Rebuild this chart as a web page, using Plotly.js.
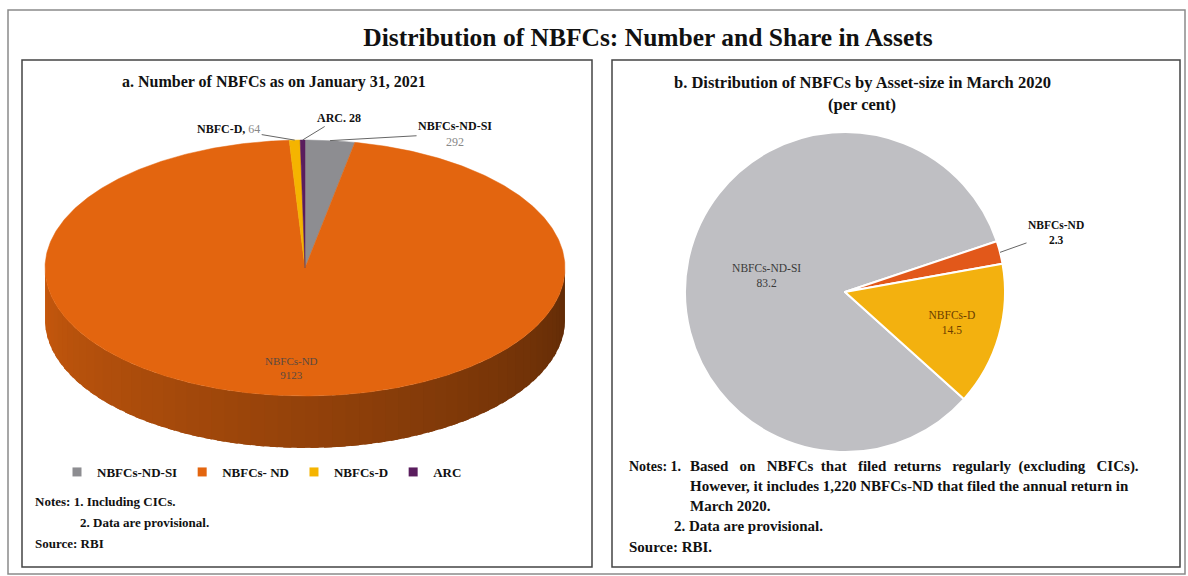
<!DOCTYPE html>
<html><head><meta charset="utf-8">
<script src="https://cdn.plot.ly/plotly-3.0.1.min.js"></script>
<style>html,body{margin:0;padding:0;background:#fff}#chart{width:1188px;height:576px}</style>
</head><body><div id="chart"></div>
<script>
// ---- Data ----
// Panel a: Number of NBFCs as on January 31, 2021
const countCategories = ['NBFCs-ND-SI', 'NBFCs- ND', 'NBFCs-D', 'ARC'];
const countValues = [292, 9123, 64, 28];
const countLabelNames = ['NBFCs-ND-SI', 'NBFCs-ND', 'NBFC-D', 'ARC'];
// Panel b: Distribution of NBFCs by Asset-size in March 2020 (per cent)
const shareCategories = ['NBFCs-ND-SI', 'NBFCs-ND', 'NBFCs-D'];
const shareValues = [83.2, 2.3, 14.5];

// ---- Styles ----
const countColors = ['#8D8D91', '#E3650F', '#F5B400', '#5A1D5E'];
const shareColors = ['#BFBFC3', '#E2581A', '#F3B10F'];
const FONT = 'Liberation Serif, DejaVu Serif, serif';
const W = 1188, H = 576;
const px = x => x / W, py = y => 1 - y / H;

// Left 3D pie geometry (pixels)
const CX = 305, CY = 268, RX = 260, RY = 128, DEPTH = 52;
const xr = [-CX / RX, (594 - CX) / RX];
const yr = [-(H - CY) / RY, CY / RY];
const depthU = DEPTH / RY;

const total = countValues.reduce((a, b) => a + b, 0);
const starts = [];
let acc = 0;
countValues.forEach(v => { starts.push(acc / total * 2 * Math.PI); acc += v; });
const ends = countValues.map((v, i) => starts[i] + v / total * 2 * Math.PI);

function hexToRgb(h) { return [1, 3, 5].map(k => parseInt(h.substr(k, 2), 16)); }
function shade(h, f) { const c = hexToRgb(h).map(v => Math.round(v * f)); return `rgb(${c[0]},${c[1]},${c[2]})`; }
function sliceAt(a) { for (let i = 0; i < countValues.length; i++) if (a >= starts[i] && a <= ends[i]) return i; return 0; }

const traces = [];
// side of the 3D pie (front half only), overlapping segments to avoid seams
const NS = 60;
const step = Math.PI / NS;
for (let k = 0; k < NS; k++) {
  const a0 = Math.PI / 2 + step * k;
  const a1 = Math.min(1.5 * Math.PI, a0 + step * 1.6);
  const m = a0 + step / 2;
  const i = sliceAt(m);
  const t = (m - Math.PI / 2) / Math.PI; // 0 right .. 1 left
  const col = shade(countColors[i], 0.42 + 0.46 * t);
  const xs = [], ys = [];
  const n = 6;
  for (let j = 0; j <= n; j++) { const a = a0 + (a1 - a0) * j / n; xs.push(Math.sin(a)); ys.push(Math.cos(a)); }
  for (let j = n; j >= 0; j--) { const a = a0 + (a1 - a0) * j / n; xs.push(Math.sin(a)); ys.push(Math.cos(a) - depthU); }
  xs.push(xs[0]); ys.push(ys[0]);
  traces.push({
    type: 'scatter', mode: 'lines', xaxis: 'x', yaxis: 'y', fill: 'toself', fillcolor: col,
    line: { color: col, width: 0 }, hoverinfo: 'skip', showlegend: false, x: xs, y: ys
  });
}
// top faces
countValues.forEach((v, i) => {
  const n = Math.max(2, Math.ceil((ends[i] - starts[i]) / (Math.PI / 360)));
  const xs = [0], ys = [0];
  for (let k = 0; k <= n; k++) {
    const a = starts[i] + (ends[i] - starts[i]) * k / n;
    xs.push(Math.sin(a)); ys.push(Math.cos(a));
  }
  xs.push(0); ys.push(0);
  traces.push({
    type: 'scatter', mode: 'lines', xaxis: 'x', yaxis: 'y', fill: 'toself', fillcolor: countColors[i],
    line: { color: countColors[i], width: 0.5 }, name: countCategories[i], hoverinfo: 'skip', showlegend: false,
    x: xs, y: ys
  });
});
// legend entries
countCategories.forEach((c, i) => {
  traces.push({
    type: 'scatter', mode: 'markers', xaxis: 'x', yaxis: 'y', x: [null], y: [null], name: c,
    marker: { symbol: 'square', size: 9, color: countColors[i] }, showlegend: true
  });
});

// right pie
const PCX = 845, PCY = 292, PR = 160, ROT = 132;
traces.push({
  type: 'pie', labels: shareCategories, values: shareValues, sort: false, direction: 'clockwise',
  rotation: ROT, showlegend: false, hoverinfo: 'skip',
  marker: { colors: shareColors, line: { color: '#ffffff', width: 2 } },
  texttemplate: shareValues.map((v, i) => i === 1 ? '' : '%{label}<br>%{value:.1f}'),
  textposition: 'inside', insidetextorientation: 'horizontal',
  insidetextfont: { family: FONT, size: 11.5, color: ['#3a3a3a', '#000', '#6b3d00'] },
  domain: { x: [px(PCX - PR), px(PCX + PR)], y: [py(PCY + PR), py(PCY - PR)] }
});

// ---- Annotations ----
const ann = [];
function mid(i) { return (starts[i] + ends[i]) / 2; }
const lblFont = { family: FONT, size: 12, color: '#111' };
ann.push({ xref: 'x', yref: 'y', x: 0.78 * Math.sin(mid(1)), y: 0.78 * Math.cos(mid(1)), showarrow: false,
  text: countLabelNames[1] + '<br>' + countValues[1], font: { family: FONT, size: 11, color: '#5a4a40' } });
ann.push({ xref: 'x', yref: 'y', x: Math.sin(mid(2)), y: Math.cos(mid(2)), showarrow: true, arrowhead: 0, arrowwidth: 1, arrowcolor: '#666',
  ax: -66, ay: -11, text: '<b>' + countLabelNames[2] + ',</b> <span style="color:#888">' + countValues[2] + '</span>', font: lblFont });
ann.push({ xref: 'x', yref: 'y', x: Math.sin(mid(3)), y: Math.cos(mid(3)), showarrow: true, arrowhead: 0, arrowwidth: 1, arrowcolor: '#666',
  ax: 36, ay: -22, text: '<b>' + countLabelNames[3] + '. ' + countValues[3] + '</b>', font: lblFont });
ann.push({ xref: 'x', yref: 'y', x: Math.sin(mid(0)), y: Math.cos(mid(0)), showarrow: true, arrowhead: 0, arrowwidth: 1, arrowcolor: '#666',
  ax: 125, ay: -7, text: '<b>' + countLabelNames[0] + '</b><br><span style="color:#888">' + countValues[0] + '</span>', font: lblFont });

// right pie outside label
const sTot = shareValues.reduce((a, b) => a + b, 0);
const ndMid = (ROT + (shareValues[0] + shareValues[1] / 2) / sTot * 360) * Math.PI / 180;
ann.push({ xref: 'paper', yref: 'paper', x: px(PCX + PR * Math.sin(ndMid)), y: py(PCY - PR * Math.cos(ndMid)),
  showarrow: true, arrowhead: 0, arrowwidth: 1, arrowcolor: '#666', ax: 56, ay: -20,
  text: '<b>' + shareCategories[1] + '<br>' + shareValues[1].toFixed(1) + '</b>', font: { family: FONT, size: 11.5, color: '#111' } });

// subtitles
const subFont = { family: FONT, size: 16.5, color: '#111' };
function centered(x, y, t, f) { ann.push({ xref: 'paper', yref: 'paper', x: px(x), y: py(y), xanchor: 'center', yanchor: 'middle', showarrow: false, text: t, font: f }); }
centered(274, 82, '<b>a. Number of NBFCs as on January 31, 2021</b>', { family: FONT, size: 16, color: '#111' });
centered(862, 82, '<b>b. Distribution of NBFCs by Asset-size in March 2020</b>', subFont);
centered(862, 105, '<b>(per cent)</b>', subFont);

// notes
const noteFont = { family: FONT, size: 13, color: '#111' };
function note(x, y, t, f) { ann.push({ xref: 'paper', yref: 'paper', x: px(x), y: py(y), xanchor: 'left', yanchor: 'middle', showarrow: false, text: t, font: f || noteFont }); }
note(33, 501, '<b>Notes: 1. Including CICs.</b>');
note(78, 522, '<b>2. Data are provisional.</b>');
note(33, 543, '<b>Source: RBI</b>');
const noteFontR = { family: FONT, size: 15, color: '#111' };
note(627, 466, '<b>Notes: 1.</b>', { family: FONT, size: 14, color: '#111' });
note(688, 466, '<b>Based   on   NBFCs  that   filed  returns   regularly  (excluding   CICs).</b>', noteFontR);
note(688, 486, '<b>However, it includes 1,220 NBFCs-ND that filed the annual return in</b>', noteFontR);
note(688, 506, '<b>March 2020.</b>', noteFontR);
note(672, 526, '<b>2. Data are provisional.</b>', noteFontR);
note(627, 547, '<b>Source: RBI.</b>', noteFontR);

// ---- Frames ----
const shapes = [
  { type: 'rect', xref: 'paper', yref: 'paper', x0: px(8), x1: px(1185), y0: py(574), y1: py(10), line: { color: '#8a8a8a', width: 1.5 } },
  { type: 'rect', xref: 'paper', yref: 'paper', x0: px(22), x1: px(592), y0: py(567), y1: py(60), line: { color: '#444', width: 1.5 } },
  { type: 'rect', xref: 'paper', yref: 'paper', x0: px(612), x1: px(1180), y0: py(567), y1: py(60), line: { color: '#444', width: 1.5 } }
];

const axisOff = { visible: false, showgrid: false, zeroline: false, fixedrange: true };
const layout = {
  width: W, height: H, margin: { l: 0, r: 0, t: 0, b: 0 },
  paper_bgcolor: '#ffffff', plot_bgcolor: 'rgba(0,0,0,0)',
  title: { text: '<b>Distribution of NBFCs: Number and Share in Assets</b>', x: px(648), y: py(37), xanchor: 'center', yanchor: 'middle',
    font: { family: FONT, size: 25.5, color: '#111' } },
  xaxis: Object.assign({ domain: [0, 0.5], range: xr }, axisOff),
  yaxis: Object.assign({ domain: [0, 1], range: yr }, axisOff),
  showlegend: true,
  legend: { orientation: 'h', x: px(57), y: py(472), xanchor: 'left', yanchor: 'middle',
    font: { family: FONT, size: 13, color: '#111', weight: 'bold' }, bgcolor: 'rgba(0,0,0,0)', borderwidth: 0 },
  annotations: ann, shapes: shapes
};
Plotly.newPlot('chart', traces, layout, { staticPlot: true, displayModeBar: false });
</script></body></html>
